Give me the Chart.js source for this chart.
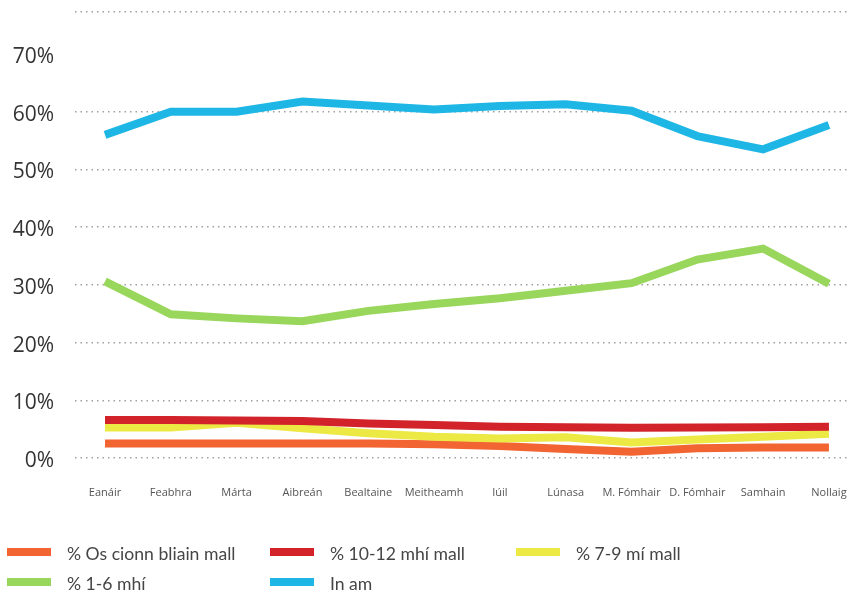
<!DOCTYPE html>
<html>
<head>
<meta charset="utf-8">
<script src="https://cdn.jsdelivr.net/npm/chart.js@4/dist/chart.umd.min.js"></script>
<style>
  html, body { margin: 0; padding: 0; background: #ffffff; }
  #wrap { position: absolute; left: 0; top: 0; width: 853px; height: 510px; }
  #legend { position: absolute; left: 0; top: 0; width: 853px; height: 593px; pointer-events: none; }
  .li { position: absolute; height: 24px; font-family: "Lato", sans-serif; font-size: 17.6px; color: #454545; white-space: nowrap; }
  .li .box { position: absolute; left: 0; width: 44px; height: 8px; }
  .li .txt { position: absolute; left: 60px; top: 0; line-height: 24px; }
</style>
</head>
<body>
<div id="wrap"><canvas id="c"></canvas></div>
<div id="legend"></div>
<script>
// ---- data ----
const months = ['Eanáir','Feabhra','Márta','Aibreán','Bealtaine','Meitheamh','Iúil','Lúnasa','M. Fómhair','D. Fómhair','Samhain','Nollaig'];
const osCionnBliain = [2.5, 2.5, 2.5, 2.5, 2.5, 2.4, 2.1, 1.55, 1.1, 1.7, 1.8, 1.8];
const mhi10to12 = [6.6, 6.6, 6.5, 6.4, 6.0, 5.7, 5.4, 5.35, 5.25, 5.3, 5.35, 5.4];
const mi7to9 = [5.3, 5.3, 6.1, 5.15, 4.3, 3.7, 3.4, 3.6, 2.7, 3.2, 3.7, 4.2];
const mhi1to6 = [30.6, 24.9, 24.2, 23.7, 25.5, 26.7, 27.7, 29.0, 30.3, 34.4, 36.3, 30.2];
const inAm = [56.0, 60.0, 60.0, 61.8, 61.1, 60.4, 61.0, 61.3, 60.2, 55.8, 53.5, 57.7];
const yTicks = [0, 10, 20, 30, 40, 50, 60, 70];
const seriesNames = ['% Os cionn bliain mall', '% 10-12 mhí mall', '% 7-9 mí mall', '% 1-6 mhí', 'In am'];

const colors = {
  orange: '#F26532',
  red: '#D2232A',
  yellow: '#ECE944',
  green: '#99D65C',
  blue: '#1EB7E5'
};

function pts(arr) { return arr.map((v, i) => ({ x: i, y: v })); }

// draw order: dataset 0 is drawn on top
const datasets = [
  { label: seriesNames[1], data: pts(mhi10to12), borderColor: colors.red },
  { label: seriesNames[2], data: pts(mi7to9), borderColor: colors.yellow },
  { label: seriesNames[0], data: pts(osCionnBliain), borderColor: colors.orange },
  { label: seriesNames[3], data: pts(mhi1to6), borderColor: colors.green },
  { label: seriesNames[4], data: pts(inAm), borderColor: colors.blue }
].map(d => Object.assign(d, {
  borderWidth: 8, pointRadius: 0, pointHoverRadius: 0, tension: 0, fill: false,
  borderCapStyle: 'butt', borderJoinStyle: 'miter'
}));

const yTop = 77.3;

function noPad(s) { s.paddingTop = 0; s.paddingBottom = 0; s.paddingLeft = 0; s.paddingRight = 0; }

new Chart(document.getElementById('c'), {
  type: 'line',
  data: { datasets },
  options: {
    responsive: true,
    maintainAspectRatio: false,
    animation: false,
    layout: { padding: { top: 12, right: 3, left: 0, bottom: 0 } },
    plugins: { legend: { display: false }, tooltip: { enabled: false } },
    scales: {
      x: {
        type: 'linear',
        min: -0.456,
        max: 11.32,
        afterBuildTicks: (s) => { s.ticks = months.map((m, i) => ({ value: i })); },
        afterFit: (s) => { s.height = 52; noPad(s); },
        grid: { display: false },
        border: { display: false },
        ticks: {
          autoSkip: false, maxRotation: 0, padding: 20,
          color: '#555', font: { family: 'Open Sans', size: 11 },
          callback: (v) => months[v]
        }
      },
      y: {
        min: 0,
        max: yTop,
        afterBuildTicks: (s) => { s.ticks = yTicks.concat([yTop]).map(v => ({ value: v })); },
        afterFit: (s) => { s.width = 75; noPad(s); },
        grid: {
          drawTicks: false,
          lineWidth: 1.5,
          color: (ctx) => (ctx.tick && ctx.tick.value === 70) ? 'rgba(0,0,0,0)' : '#a0a0a0'
        },
        border: { display: false, dash: [1.5, 4] },
        ticks: {
          padding: 21,
          labelOffset: 3,
          color: '#333', font: { family: 'Open Sans', size: 21 },
          callback: (v) => (v > 75 ? '' : v + '%')
        }
      }
    }
  }
});

// ---- legend ----
const legendItems = [
  { name: seriesNames[0], color: colors.orange, left: 7, top: 542 },
  { name: seriesNames[1], color: colors.red, left: 270, top: 542 },
  { name: seriesNames[2], color: colors.yellow, left: 516, top: 542 },
  { name: seriesNames[3], color: colors.green, left: 7, top: 572 },
  { name: seriesNames[4], color: colors.blue, left: 270, top: 572 }
];
const lg = document.getElementById('legend');
legendItems.forEach(it => {
  const d = document.createElement('div');
  d.className = 'li';
  d.style.left = it.left + 'px';
  d.style.top = it.top + 'px';
  const b = document.createElement('span');
  b.className = 'box';
  b.style.background = it.color;
  b.style.top = '6px';
  const t = document.createElement('span');
  t.className = 'txt';
  t.textContent = it.name;
  d.appendChild(b); d.appendChild(t);
  lg.appendChild(d);
});
</script>
</body>
</html>
